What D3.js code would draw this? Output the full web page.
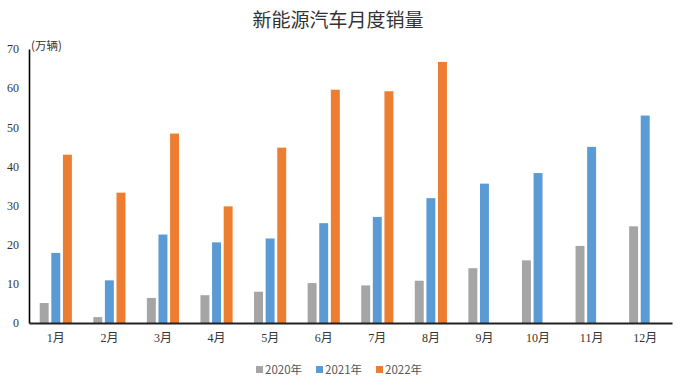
<!DOCTYPE html>
<html><head><meta charset="utf-8">
<script src="https://cdn.jsdelivr.net/npm/d3@7/dist/d3.min.js"></script>
<style>body{margin:0;background:#fff}</style>
</head><body>
<svg id="c" width="677" height="380"></svg>
<script>
const months = ["1月","2月","3月","4月","5月","6月","7月","8月","9月","10月","11月","12月"];
const seriesNames = ["2020年","2021年","2022年"];
const s2020 = [5.1, 1.5, 6.4, 7.1, 8.0, 10.2, 9.6, 10.8, 14.0, 16.0, 19.7, 24.7];
const s2021 = [17.9, 10.9, 22.6, 20.6, 21.6, 25.5, 27.1, 31.9, 35.6, 38.3, 45.0, 53.0];
const s2022 = [43.0, 33.3, 48.4, 29.8, 44.8, 59.6, 59.2, 66.7, null, null, null, null];
const yTicks = [0,10,20,30,40,50,60,70];
const colors = ["#A5A5A5","#5B9BD5","#ED7D31"];

(function(){
const svg = d3.select("#c");
const mL = 29, mR = 672, mT = 49, mB = 323;
const serif = "'Liberation Serif','Noto Sans CJK SC',serif";
const sans = "'Noto Sans CJK SC','Noto Sans',sans-serif";

const x0 = d3.scaleBand().domain(months).range([mL, mR]).paddingInner(0.4).paddingOuter(0.2);
const x1 = d3.scaleBand().domain(seriesNames).range([0, x0.bandwidth()]).paddingInner(0.23);
const y = d3.scaleLinear().domain([0,70]).range([mB, mT]);

svg.append("text").attr("x", 338).attr("y", 27).attr("text-anchor","middle")
  .attr("font-family", sans).attr("font-size", 19).attr("fill","#333").text("新能源汽车月度销量");

const data = [s2020, s2021, s2022];
data.forEach((arr, si) => {
  svg.append("g").selectAll("rect").data(arr.map((v,i)=>({v, m: months[i]})).filter(d=>d.v!=null))
    .join("rect")
    .attr("x", d => x0(d.m) + x1(seriesNames[si]))
    .attr("width", x1.bandwidth())
    .attr("y", d => y(d.v))
    .attr("height", d => y(0) - y(d.v))
    .attr("fill", colors[si]);
});

const ya = svg.append("g").attr("transform", `translate(${mL},0)`)
  .call(d3.axisLeft(y).tickValues(yTicks).tickSize(0).tickPadding(10));
ya.select(".domain").attr("stroke","#000").attr("stroke-width",1.6);
ya.selectAll("text").attr("font-family", serif).attr("font-size", 12).attr("fill","#333");

const xa = svg.append("g").attr("transform", `translate(0,${mB})`)
  .call(d3.axisBottom(x0).tickSize(0).tickPadding(10));
xa.select(".domain").attr("stroke","#222").attr("stroke-width",2);
xa.selectAll("text").attr("font-family", serif).attr("font-size", 12).attr("fill","#333");

svg.append("text").attr("x", 31).attr("y", 50).attr("font-family", sans).attr("font-size", 11.5)
  .attr("fill","#333").text("(万辆)");

const legX = [256, 316, 376];
const lg = svg.append("g");
seriesNames.forEach((n,i) => {
  lg.append("rect").attr("x", legX[i]).attr("y", 366).attr("width", 7).attr("height", 7).attr("fill", colors[i]);
  lg.append("text").attr("x", legX[i]+9).attr("y", 374).attr("font-family", sans).attr("font-size", 11.5)
    .attr("fill","#555").text(n);
});
})();
</script>
</body></html>
